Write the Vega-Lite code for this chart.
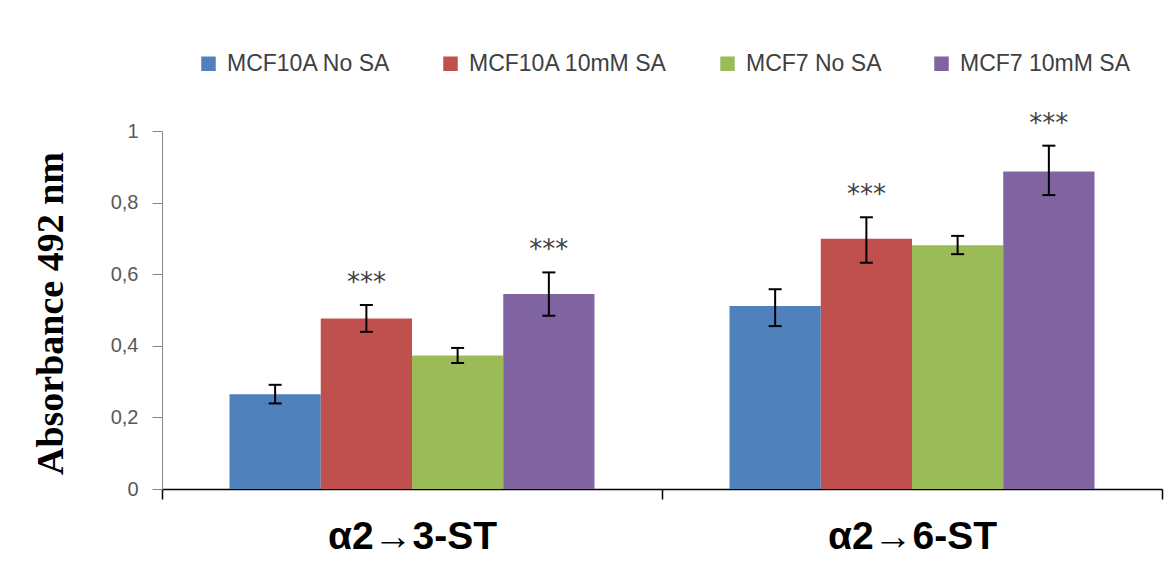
{
  "$schema": "https://vega.github.io/schema/vega-lite/v6.json",
  "width": 1000,
  "height": 358,
  "autosize": {"type": "none"},
  "padding": {"left": 162, "top": 131, "right": 10, "bottom": 85},
  "background": "white",
  "config": {"view": {"stroke": null}, "font": "Liberation Sans"},
  "data": {
    "values": [
      {"group": "α2→3-ST", "series": "MCF10A No SA", "mean": 0.265, "lo": 0.239, "hi": 0.291, "sig": ""},
      {"group": "α2→3-ST", "series": "MCF10A 10mM SA", "mean": 0.476, "lo": 0.439, "hi": 0.514, "sig": "***"},
      {"group": "α2→3-ST", "series": "MCF7 No SA", "mean": 0.373, "lo": 0.352, "hi": 0.394, "sig": ""},
      {"group": "α2→3-ST", "series": "MCF7 10mM SA", "mean": 0.545, "lo": 0.484, "hi": 0.605, "sig": "***"},
      {"group": "α2→6-ST", "series": "MCF10A No SA", "mean": 0.511, "lo": 0.455, "hi": 0.558, "sig": ""},
      {"group": "α2→6-ST", "series": "MCF10A 10mM SA", "mean": 0.699, "lo": 0.632, "hi": 0.759, "sig": "***"},
      {"group": "α2→6-ST", "series": "MCF7 No SA", "mean": 0.681, "lo": 0.656, "hi": 0.707, "sig": ""},
      {"group": "α2→6-ST", "series": "MCF7 10mM SA", "mean": 0.887, "lo": 0.821, "hi": 0.959, "sig": "***"}
    ]
  },
  "encoding": {
    "x": {
      "field": "group",
      "type": "nominal",
      "sort": ["α2→3-ST", "α2→6-ST"],
      "scale": {"paddingInner": 0, "paddingOuter": 0},
      "axis": {
        "title": null,
        "labelAngle": 0,
        "labelFont": "Liberation Sans",
        "labelFontSize": 39,
        "labelFontWeight": "bold",
        "labelColor": "black",
        "labelBaseline": "alphabetic",
        "labelPadding": 49,
        "tickSize": 10,
        "tickColor": "black",
        "tickWidth": 1.5,
        "domainColor": "black",
        "domainWidth": 1.5,
        "tickBand": "extent"
      }
    },
    "xOffset": {
      "field": "series",
      "type": "nominal",
      "sort": ["MCF10A No SA", "MCF10A 10mM SA", "MCF7 No SA", "MCF7 10mM SA"],
      "scale": {"paddingInner": 0, "paddingOuter": 0.74}
    }
  },
  "layer": [
    {
      "mark": {"type": "bar"},
      "encoding": {
        "y": {
          "field": "mean",
          "type": "quantitative",
          "scale": {"domain": [0, 1], "nice": false},
          "axis": {
            "title": "Absorbance 492 nm",
            "titleFont": "Liberation Serif",
            "titleFontSize": 38,
            "titleFontWeight": "bold",
            "titleColor": "black",
            "titleX": -100,
            "titleY": 182,
            "titleBaseline": "alphabetic",
            "titleAlign": "center",
            "values": [0, 0.2, 0.4, 0.6, 0.8, 1],
            "labelExpr": "datum.value == 0 ? '0' : datum.value == 1 ? '1' : replace(format(datum.value, '.1f'), '.', ',')",
            "labelFontSize": 20,
            "labelColor": "#595959",
            "labelPadding": 14,
            "tickSize": 10,
            "tickColor": "#868686",
            "domainColor": "#868686",
            "grid": false
          }
        },
        "color": {
          "field": "series",
          "type": "nominal",
          "scale": {
            "domain": ["MCF10A No SA", "MCF10A 10mM SA", "MCF7 No SA", "MCF7 10mM SA"],
            "range": ["#4F81BD", "#C0504D", "#9BBB59", "#8064A2"]
          },
          "legend": {
            "orient": "none",
            "legendX": 35,
            "legendY": -79,
            "direction": "horizontal",
            "title": null,
            "labelFont": "Liberation Sans",
            "labelFontSize": 23,
            "labelColor": "#404040",
            "labelLimit": 400,
            "symbolType": "square",
            "symbolSize": 210,
            "symbolStrokeWidth": 0,
            "symbolOpacity": 1,
            "labelOffset": 7,
            "columnPadding": 48,
            "padding": 0
          }
        }
      }
    },
    {
      "mark": {"type": "rule", "strokeWidth": 2, "color": "black"},
      "encoding": {
        "y": {"field": "lo", "type": "quantitative", "title": "Absorbance 492 nm"},
        "y2": {"field": "hi"}
      }
    },
    {
      "mark": {"type": "tick", "thickness": 2, "size": 13, "color": "black", "orient": "horizontal", "opacity": 1},
      "encoding": {
        "y": {"field": "lo", "type": "quantitative", "title": "Absorbance 492 nm"}
      }
    },
    {
      "mark": {"type": "tick", "thickness": 2, "size": 13, "color": "black", "orient": "horizontal", "opacity": 1},
      "encoding": {
        "y": {"field": "hi", "type": "quantitative", "title": "Absorbance 492 nm"}
      }
    },
    {
      "mark": {"type": "text", "font": "DejaVu Sans", "fontSize": 26, "color": "#404040", "baseline": "middle", "dy": -22},
      "encoding": {
        "y": {"field": "hi", "type": "quantitative", "title": "Absorbance 492 nm"},
        "text": {"field": "sig"}
      }
    }
  ]
}
